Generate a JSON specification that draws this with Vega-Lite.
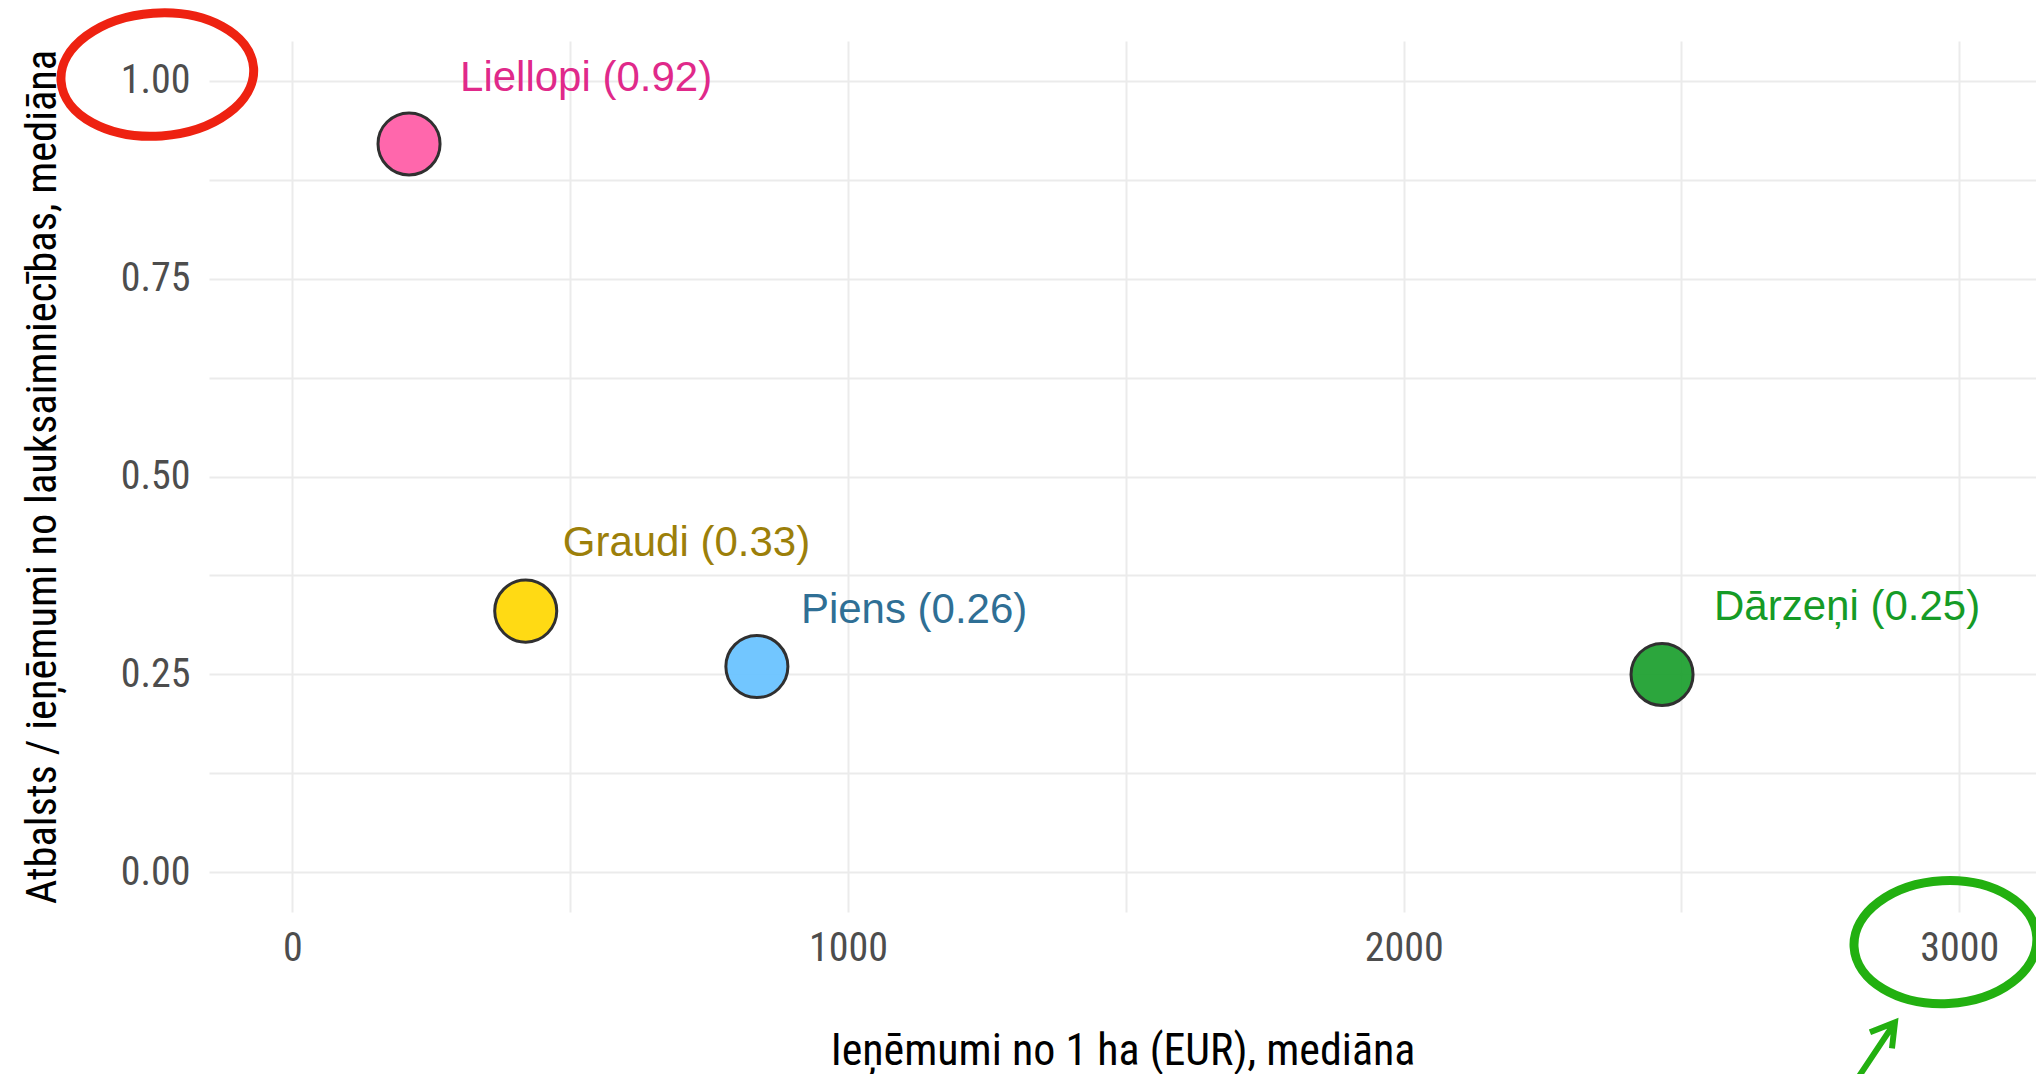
{
  "$schema": "https://vega.github.io/schema/vega-lite/v6.json",
  "width": 1827,
  "height": 871,
  "autosize": {"type": "none"},
  "padding": {"left": 209, "top": 41, "right": 0, "bottom": 162},
  "background": "white",
  "config": {"view": {"stroke": null}},
  "datasets": {
    "points": [
      {"name": "Liellopi", "income": 210, "ratio": 0.92, "label": "Liellopi (0.92)"},
      {"name": "Graudi", "income": 420, "ratio": 0.33, "label": "Graudi (0.33)"},
      {"name": "Piens", "income": 836, "ratio": 0.26, "label": "Piens (0.26)"},
      {"name": "Dārzeņi", "income": 2465, "ratio": 0.25, "label": "Dārzeņi (0.25)"}
    ]
  },
  "layer": [
    {
      "data": {"name": "points"},
      "mark": {"type": "point", "shape": "circle", "filled": true, "size": 3850, "stroke": "#303030", "strokeWidth": 3, "opacity": 1, "fillOpacity": 0.92},
      "encoding": {
        "x": {
          "field": "income", "type": "quantitative",
          "scale": {"domain": [-150, 3138], "nice": false, "zero": false},
          "axis": {
            "title": "Ieņēmumi no 1 ha (EUR), mediāna",
            "values": [0, 500, 1000, 1500, 2000, 2500, 3000],
            "labelExpr": "datum.value % 1000 === 0 ? format(datum.value, 'd') : ''",
            "grid": true, "gridColor": "#EBEBEB", "gridWidth": 2,
            "domain": false, "ticks": false,
            "labelFont": "Roboto Condensed, Liberation Sans Narrow, sans-serif",
            "labelFontSize": 40, "labelColor": "#4D4D4D", "labelPadding": 16,
            "labelFlush": false, "labelOverlap": false,
            "titleFont": "Roboto Condensed, Liberation Sans Narrow, sans-serif",
            "titleFontSize": 44, "titleFontWeight": "normal", "titleColor": "#000000", "titlePadding": 61
          }
        },
        "y": {
          "field": "ratio", "type": "quantitative",
          "scale": {"domain": [-0.05, 1.05], "nice": false, "zero": false},
          "axis": {
            "title": "Atbalsts / ieņēmumi no lauksaimniecības, mediāna",
            "values": [0, 0.125, 0.25, 0.375, 0.5, 0.625, 0.75, 0.875, 1],
            "labelExpr": "datum.value % 0.25 === 0 ? format(datum.value, '.2f') : ''",
            "grid": true, "gridColor": "#EBEBEB", "gridWidth": 2,
            "domain": false, "ticks": false,
            "labelFont": "Roboto Condensed, Liberation Sans Narrow, sans-serif",
            "labelFontSize": 40, "labelColor": "#4D4D4D", "labelPadding": 19,
            "labelOverlap": false, "labelFlush": false,
            "titleFont": "Roboto Condensed, Liberation Sans Narrow, sans-serif",
            "titleFontSize": 42.5, "titleFontWeight": "normal", "titleColor": "#000000", "titlePadding": 56
          }
        },
        "fill": {
          "field": "name", "type": "nominal",
          "scale": {"domain": ["Liellopi", "Graudi", "Piens", "Dārzeņi"], "range": ["#FF5AA5", "#FFD700", "#66C1FF", "#1A9E2D"]},
          "legend": null
        }
      }
    },
    {
      "data": {"name": "points"},
      "transform": [{"filter": "datum.name === 'Liellopi'"}],
      "mark": {"type": "text", "align": "left", "baseline": "alphabetic", "dx": 51, "dy": -53, "font": "Liberation Sans, Arial, sans-serif", "fontSize": 42, "color": "#E0298A"},
      "encoding": {"x": {"field": "income", "type": "quantitative"}, "y": {"field": "ratio", "type": "quantitative"}, "text": {"field": "label"}}
    },
    {
      "data": {"name": "points"},
      "transform": [{"filter": "datum.name === 'Graudi'"}],
      "mark": {"type": "text", "align": "left", "baseline": "alphabetic", "dx": 37, "dy": -55, "font": "Liberation Sans, Arial, sans-serif", "fontSize": 42, "color": "#9C7F0A"},
      "encoding": {"x": {"field": "income", "type": "quantitative"}, "y": {"field": "ratio", "type": "quantitative"}, "text": {"field": "label"}}
    },
    {
      "data": {"name": "points"},
      "transform": [{"filter": "datum.name === 'Piens'"}],
      "mark": {"type": "text", "align": "left", "baseline": "alphabetic", "dx": 44, "dy": -44, "font": "Liberation Sans, Arial, sans-serif", "fontSize": 42, "color": "#2F6F95"},
      "encoding": {"x": {"field": "income", "type": "quantitative"}, "y": {"field": "ratio", "type": "quantitative"}, "text": {"field": "label"}}
    },
    {
      "data": {"name": "points"},
      "transform": [{"filter": "datum.name === 'Dārzeņi'"}],
      "mark": {"type": "text", "align": "left", "baseline": "alphabetic", "dx": 52, "dy": -54, "font": "Liberation Sans, Arial, sans-serif", "fontSize": 42, "color": "#159B26"},
      "encoding": {"x": {"field": "income", "type": "quantitative"}, "y": {"field": "ratio", "type": "quantitative"}, "text": {"field": "label"}}
    },
    {
      "data": {"values": [{"income": -243, "ratio": 1.0076}]},
      "mark": {"type": "point", "shape": "M-1,0A1,0.637 0 1,0 1,0A1,0.637 0 1,0 -1,0Z", "size": 37249, "filled": false, "stroke": "#EE2211", "strokeWidth": 9, "opacity": 1, "angle": -4},
      "encoding": {"x": {"field": "income", "type": "quantitative"}, "y": {"field": "ratio", "type": "quantitative"}}
    },
    {
      "data": {"values": [{"income": 2975, "ratio": -0.088}]},
      "mark": {"type": "point", "shape": "M-1,0A1,0.672 0 1,0 1,0A1,0.672 0 1,0 -1,0Z", "size": 33489, "filled": false, "stroke": "#22B010", "strokeWidth": 9, "opacity": 1, "angle": -3},
      "encoding": {"x": {"field": "income", "type": "quantitative"}, "y": {"field": "ratio", "type": "quantitative"}}
    },
    {
      "data": {"values": [{"income": 2850, "ratio": -0.2247}]},
      "mark": {"type": "point", "shape": "M-0.633,0.967L0.633,-0.933M-0.2,-0.6L0.633,-0.933L0.533,-0.067", "size": 3600, "filled": false, "stroke": "#22B010", "strokeWidth": 6, "opacity": 1},
      "encoding": {"x": {"field": "income", "type": "quantitative"}, "y": {"field": "ratio", "type": "quantitative"}}
    }
  ]
}
